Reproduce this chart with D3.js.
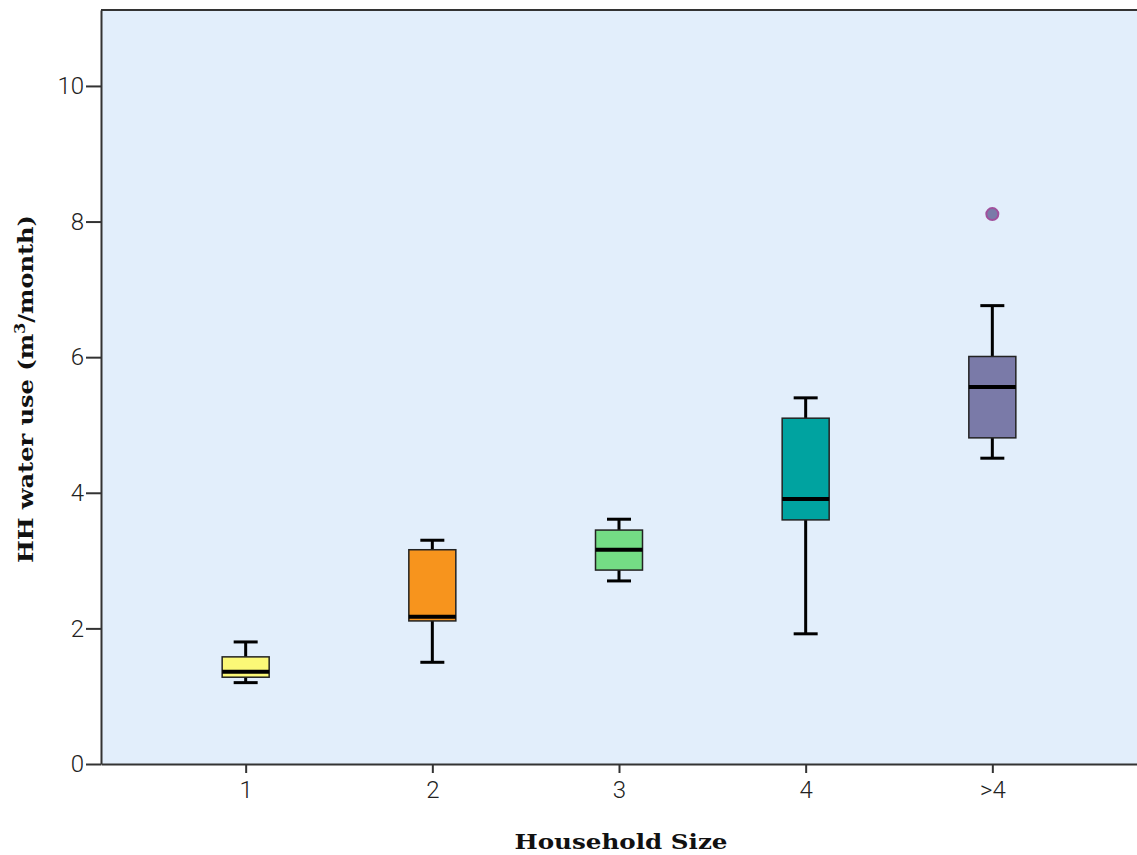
<!DOCTYPE html>
<html>
<head>
<meta charset="utf-8">
<script src="https://cdn.jsdelivr.net/npm/d3@7"></script>
<style>
  body { margin: 0; background: #fff; }
  svg { display: block; }
</style>
</head>
<body>
<div id="chart"></div>
<script>
// Data
const categories = ["1", "2", "3", "4", ">4"];
const whiskerLow = [1.20, 1.50, 2.70, 1.92, 4.51];
const q1 = [1.28, 2.11, 2.86, 3.60, 4.81];
const medians = [1.36, 2.17, 3.16, 3.91, 5.56];
const q3 = [1.58, 3.16, 3.45, 5.10, 6.01];
const whiskerHigh = [1.80, 3.30, 3.61, 5.40, 6.76];
const outliers = [{ cat: ">4", value: 8.11 }];
const yTicks = [0, 2, 4, 6, 8, 10];
const fills = ["#fbf877", "#f7941d", "#74dd85", "#00a3a0", "#7a7aa8"];

const boxes = categories.map((c, i) => ({
    cat: c, lo: whiskerLow[i], q1: q1[i], med: medians[i], q3: q3[i], hi: whiskerHigh[i], fill: fills[i]
}));

const W = 1137, H = 855;
const margin = { top: 10, right: 0, bottom: 91, left: 101 };
const width = W - margin.left - margin.right;
const height = H - margin.top - margin.bottom;

const svg = d3.select("#chart").append("svg")
    .attr("width", W)
    .attr("height", H);

const g = svg.append("g").attr("transform", `translate(${margin.left},${margin.top})`);

// Scales
const x = d3.scalePoint().domain(categories).range([0, width]).padding(0.775);
const y = d3.scaleLinear().domain([0, 11.12]).range([height, 0]);

// Background
g.append("rect").attr("width", width).attr("height", height).attr("fill", "#e2eefb");
// top border
g.append("line").attr("x1", 0).attr("x2", width).attr("y1", 0).attr("y2", 0)
    .attr("stroke", "#333").attr("stroke-width", 2);

// Axes
const yAxis = g.append("g").call(d3.axisLeft(y).tickValues(yTicks).tickSizeInner(15).tickSizeOuter(0)
    .tickPadding(2).tickFormat(d3.format("d")));
const xAxis = g.append("g").attr("transform", `translate(0,${height})`)
    .call(d3.axisBottom(x).tickSizeInner(9).tickSizeOuter(0).tickPadding(8));

[yAxis, xAxis].forEach(a => {
    a.select(".domain").attr("stroke", "#333").attr("stroke-width", 2);
    a.selectAll(".tick line").attr("stroke", "#333").attr("stroke-width", 2);
    a.selectAll(".tick text").attr("fill", "#222")
        .style("font-family", "Roboto, sans-serif").style("font-weight", "300").style("font-size", "24px");
});

// Boxes
const boxW = 47, capW = 24;
const bx = g.selectAll(".box").data(boxes).join("g").attr("class", "box")
    .attr("transform", d => `translate(${x(d.cat)},0)`);

bx.append("line").attr("y1", d => y(d.hi)).attr("y2", d => y(d.q3))
    .attr("stroke", "#000").attr("stroke-width", 3);
bx.append("line").attr("y1", d => y(d.lo)).attr("y2", d => y(d.q1))
    .attr("stroke", "#000").attr("stroke-width", 3);
bx.append("line").attr("x1", -capW / 2).attr("x2", capW / 2).attr("y1", d => y(d.hi)).attr("y2", d => y(d.hi))
    .attr("stroke", "#000").attr("stroke-width", 3);
bx.append("line").attr("x1", -capW / 2).attr("x2", capW / 2).attr("y1", d => y(d.lo)).attr("y2", d => y(d.lo))
    .attr("stroke", "#000").attr("stroke-width", 3);
bx.append("rect").attr("x", -boxW / 2).attr("width", boxW)
    .attr("y", d => y(d.q3)).attr("height", d => y(d.q1) - y(d.q3))
    .attr("fill", d => d.fill).attr("stroke", "#222").attr("stroke-width", 1.5);
bx.append("line").attr("x1", -boxW / 2).attr("x2", boxW / 2).attr("y1", d => y(d.med)).attr("y2", d => y(d.med))
    .attr("stroke", "#000").attr("stroke-width", 4);

// Outliers
g.selectAll(".outlier").data(outliers).join("circle").attr("class", "outlier")
    .attr("cx", d => x(d.cat)).attr("cy", d => y(d.value)).attr("r", 6)
    .attr("fill", "#7a7aa8").attr("stroke", "#a0509c").attr("stroke-width", 2);

// Axis titles
const titleFont = "'DejaVu Serif', serif";
svg.append("text")
    .attr("x", 621).attr("y", 849)
    .attr("text-anchor", "middle")
    .attr("textLength", 213).attr("lengthAdjust", "spacingAndGlyphs")
    .style("font-family", titleFont).style("font-weight", "bold").style("font-size", "21px")
    .attr("fill", "#111")
    .text("Household Size");

const yt = svg.append("text")
    .attr("transform", `translate(33,${389}) rotate(-90)`)
    .attr("text-anchor", "middle")
    .attr("textLength", 348).attr("lengthAdjust", "spacingAndGlyphs")
    .style("font-family", titleFont).style("font-weight", "bold").style("font-size", "21px")
    .attr("fill", "#111");
yt.append("tspan").text("HH water use (m");
yt.append("tspan").attr("dy", -8).style("font-size", "14px").text("3");
yt.append("tspan").attr("dy", 8).text("/month)");
</script>
</body>
</html>
